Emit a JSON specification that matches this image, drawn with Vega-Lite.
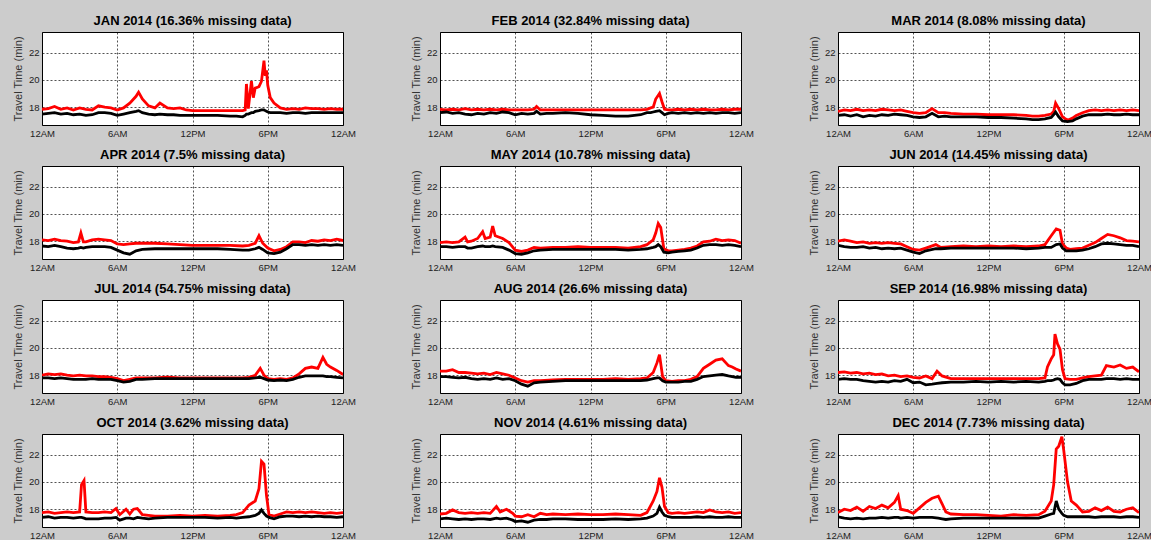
{
"$schema":"https://vega.github.io/schema/vega-lite/v6.json",
"background":"#cccccc",
"padding":{"left":11,"top":14,"right":0,"bottom":0},
"data":{"values":[
{"m":"JAN","h":0,"r":17.85,"k":17.5},{"m":"JAN","h":0.5,"r":17.9,"k":17.55},{"m":"JAN","h":1,"r":18.05,"k":17.6},{"m":"JAN","h":1.5,"r":17.85,"k":17.5},{"m":"JAN","h":2,"r":17.95,"k":17.55},{"m":"JAN","h":2.5,"r":17.8,"k":17.45},{"m":"JAN","h":3,"r":17.95,"k":17.5},{"m":"JAN","h":3.5,"r":17.85,"k":17.4},{"m":"JAN","h":4,"r":17.8,"k":17.45},{"m":"JAN","h":4.5,"r":18.1,"k":17.6},{"m":"JAN","h":5,"r":18.0,"k":17.6},{"m":"JAN","h":5.5,"r":17.95,"k":17.55},{"m":"JAN","h":6,"r":17.8,"k":17.4},{"m":"JAN","h":6.5,"r":17.95,"k":17.5},{"m":"JAN","h":7,"r":18.3,"k":17.6},{"m":"JAN","h":7.5,"r":18.8,"k":17.7},{"m":"JAN","h":7.7,"r":19.1,"k":17.75},{"m":"JAN","h":8,"r":18.6,"k":17.6},{"m":"JAN","h":8.5,"r":18.1,"k":17.5},{"m":"JAN","h":9,"r":17.95,"k":17.45},{"m":"JAN","h":9.4,"r":18.3,"k":17.5},{"m":"JAN","h":10,"r":17.95,"k":17.45},{"m":"JAN","h":10.5,"r":17.9,"k":17.45},{"m":"JAN","h":11,"r":17.95,"k":17.4},{"m":"JAN","h":11.5,"r":17.8,"k":17.4},{"m":"JAN","h":12,"r":17.75,"k":17.4},{"m":"JAN","h":13,"r":17.75,"k":17.4},{"m":"JAN","h":14,"r":17.75,"k":17.4},{"m":"JAN","h":15,"r":17.75,"k":17.35},{"m":"JAN","h":15.5,"r":17.75,"k":17.35},{"m":"JAN","h":16,"r":17.75,"k":17.3},{"m":"JAN","h":16.2,"r":17.8,"k":17.4},{"m":"JAN","h":16.3,"r":19.7,"k":17.5},{"m":"JAN","h":16.45,"r":17.9,"k":17.5},{"m":"JAN","h":16.7,"r":19.9,"k":17.6},{"m":"JAN","h":16.85,"r":18.7,"k":17.6},{"m":"JAN","h":17,"r":19.4,"k":17.7},{"m":"JAN","h":17.3,"r":19.5,"k":17.75},{"m":"JAN","h":17.5,"r":19.9,"k":17.8},{"m":"JAN","h":17.7,"r":21.4,"k":17.8},{"m":"JAN","h":17.8,"r":20.3,"k":17.75},{"m":"JAN","h":17.9,"r":20.7,"k":17.7},{"m":"JAN","h":18,"r":19.6,"k":17.65},{"m":"JAN","h":18.2,"r":18.7,"k":17.6},{"m":"JAN","h":18.5,"r":18.3,"k":17.6},{"m":"JAN","h":19,"r":17.95,"k":17.6},{"m":"JAN","h":19.5,"r":17.85,"k":17.55},{"m":"JAN","h":20,"r":17.9,"k":17.6},{"m":"JAN","h":20.5,"r":17.85,"k":17.6},{"m":"JAN","h":21,"r":17.95,"k":17.55},{"m":"JAN","h":21.5,"r":17.9,"k":17.6},{"m":"JAN","h":22,"r":17.9,"k":17.6},{"m":"JAN","h":22.5,"r":17.85,"k":17.6},{"m":"JAN","h":23,"r":17.9,"k":17.6},{"m":"JAN","h":23.5,"r":17.85,"k":17.6},{"m":"JAN","h":24,"r":17.85,"k":17.6},
{"m":"FEB","h":0,"r":17.85,"k":17.6},{"m":"FEB","h":0.5,"r":17.8,"k":17.65},{"m":"FEB","h":1,"r":17.85,"k":17.55},{"m":"FEB","h":1.5,"r":17.8,"k":17.6},{"m":"FEB","h":2,"r":17.9,"k":17.5},{"m":"FEB","h":2.5,"r":17.8,"k":17.45},{"m":"FEB","h":3,"r":17.85,"k":17.55},{"m":"FEB","h":3.5,"r":17.8,"k":17.5},{"m":"FEB","h":4,"r":17.85,"k":17.6},{"m":"FEB","h":4.5,"r":17.8,"k":17.55},{"m":"FEB","h":5,"r":17.85,"k":17.65},{"m":"FEB","h":5.5,"r":17.8,"k":17.6},{"m":"FEB","h":6,"r":17.8,"k":17.45},{"m":"FEB","h":6.5,"r":17.8,"k":17.55},{"m":"FEB","h":7,"r":17.8,"k":17.5},{"m":"FEB","h":7.5,"r":17.85,"k":17.55},{"m":"FEB","h":7.7,"r":18.05,"k":17.7},{"m":"FEB","h":8,"r":17.8,"k":17.5},{"m":"FEB","h":8.5,"r":17.8,"k":17.55},{"m":"FEB","h":9,"r":17.8,"k":17.55},{"m":"FEB","h":10,"r":17.8,"k":17.6},{"m":"FEB","h":11,"r":17.8,"k":17.55},{"m":"FEB","h":12,"r":17.8,"k":17.45},{"m":"FEB","h":13,"r":17.8,"k":17.4},{"m":"FEB","h":14,"r":17.8,"k":17.35},{"m":"FEB","h":15,"r":17.8,"k":17.35},{"m":"FEB","h":15.5,"r":17.8,"k":17.4},{"m":"FEB","h":16,"r":17.8,"k":17.45},{"m":"FEB","h":16.5,"r":17.85,"k":17.6},{"m":"FEB","h":16.8,"r":17.95,"k":17.6},{"m":"FEB","h":17,"r":18.0,"k":17.65},{"m":"FEB","h":17.2,"r":18.6,"k":17.7},{"m":"FEB","h":17.5,"r":19.0,"k":17.75},{"m":"FEB","h":17.7,"r":18.4,"k":17.6},{"m":"FEB","h":17.9,"r":17.85,"k":17.45},{"m":"FEB","h":18.2,"r":17.8,"k":17.55},{"m":"FEB","h":18.5,"r":17.8,"k":17.6},{"m":"FEB","h":19,"r":17.85,"k":17.55},{"m":"FEB","h":19.5,"r":17.8,"k":17.6},{"m":"FEB","h":20,"r":17.85,"k":17.55},{"m":"FEB","h":20.5,"r":17.8,"k":17.6},{"m":"FEB","h":21,"r":17.85,"k":17.55},{"m":"FEB","h":21.5,"r":17.8,"k":17.6},{"m":"FEB","h":22,"r":17.8,"k":17.55},{"m":"FEB","h":22.5,"r":17.85,"k":17.6},{"m":"FEB","h":23,"r":17.8,"k":17.6},{"m":"FEB","h":23.5,"r":17.85,"k":17.55},{"m":"FEB","h":24,"r":17.85,"k":17.6},
{"m":"MAR","h":0,"r":17.7,"k":17.4},{"m":"MAR","h":0.5,"r":17.8,"k":17.45},{"m":"MAR","h":1,"r":17.75,"k":17.35},{"m":"MAR","h":1.5,"r":17.85,"k":17.45},{"m":"MAR","h":2,"r":17.75,"k":17.3},{"m":"MAR","h":2.5,"r":17.8,"k":17.4},{"m":"MAR","h":3,"r":17.75,"k":17.35},{"m":"MAR","h":3.5,"r":17.85,"k":17.45},{"m":"MAR","h":4,"r":17.8,"k":17.4},{"m":"MAR","h":4.5,"r":17.75,"k":17.5},{"m":"MAR","h":5,"r":17.8,"k":17.45},{"m":"MAR","h":5.5,"r":17.7,"k":17.4},{"m":"MAR","h":6,"r":17.6,"k":17.3},{"m":"MAR","h":6.5,"r":17.55,"k":17.25},{"m":"MAR","h":7,"r":17.6,"k":17.3},{"m":"MAR","h":7.5,"r":17.9,"k":17.55},{"m":"MAR","h":8,"r":17.6,"k":17.3},{"m":"MAR","h":8.5,"r":17.6,"k":17.35},{"m":"MAR","h":9,"r":17.55,"k":17.3},{"m":"MAR","h":10,"r":17.5,"k":17.3},{"m":"MAR","h":11,"r":17.5,"k":17.3},{"m":"MAR","h":12,"r":17.45,"k":17.25},{"m":"MAR","h":13,"r":17.45,"k":17.25},{"m":"MAR","h":14,"r":17.45,"k":17.2},{"m":"MAR","h":15,"r":17.4,"k":17.15},{"m":"MAR","h":15.5,"r":17.35,"k":17.1},{"m":"MAR","h":16,"r":17.35,"k":17.1},{"m":"MAR","h":16.5,"r":17.4,"k":17.15},{"m":"MAR","h":17,"r":17.5,"k":17.25},{"m":"MAR","h":17.2,"r":17.7,"k":17.45},{"m":"MAR","h":17.35,"r":18.3,"k":17.65},{"m":"MAR","h":17.6,"r":17.9,"k":17.3},{"m":"MAR","h":17.9,"r":17.3,"k":17.0},{"m":"MAR","h":18.3,"r":17.05,"k":16.95},{"m":"MAR","h":18.7,"r":17.2,"k":17.0},{"m":"MAR","h":19,"r":17.4,"k":17.15},{"m":"MAR","h":19.5,"r":17.6,"k":17.35},{"m":"MAR","h":20,"r":17.75,"k":17.45},{"m":"MAR","h":20.5,"r":17.8,"k":17.45},{"m":"MAR","h":21,"r":17.75,"k":17.45},{"m":"MAR","h":21.5,"r":17.8,"k":17.5},{"m":"MAR","h":22,"r":17.75,"k":17.45},{"m":"MAR","h":22.5,"r":17.8,"k":17.45},{"m":"MAR","h":23,"r":17.75,"k":17.5},{"m":"MAR","h":23.5,"r":17.8,"k":17.45},{"m":"MAR","h":24,"r":17.75,"k":17.45},
{"m":"APR","h":0,"r":18.1,"k":17.65},{"m":"APR","h":0.5,"r":18.05,"k":17.6},{"m":"APR","h":1,"r":18.15,"k":17.7},{"m":"APR","h":1.5,"r":18.05,"k":17.6},{"m":"APR","h":2,"r":18.0,"k":17.5},{"m":"APR","h":2.5,"r":17.9,"k":17.45},{"m":"APR","h":2.9,"r":17.95,"k":17.5},{"m":"APR","h":3.1,"r":18.6,"k":17.55},{"m":"APR","h":3.3,"r":17.95,"k":17.5},{"m":"APR","h":3.5,"r":17.95,"k":17.55},{"m":"APR","h":4,"r":18.1,"k":17.6},{"m":"APR","h":4.5,"r":18.15,"k":17.6},{"m":"APR","h":5,"r":18.1,"k":17.6},{"m":"APR","h":5.5,"r":18.05,"k":17.55},{"m":"APR","h":6,"r":17.8,"k":17.35},{"m":"APR","h":6.5,"r":17.75,"k":17.15},{"m":"APR","h":7,"r":17.8,"k":17.05},{"m":"APR","h":7.5,"r":17.85,"k":17.3},{"m":"APR","h":8,"r":17.85,"k":17.4},{"m":"APR","h":9,"r":17.85,"k":17.45},{"m":"APR","h":10,"r":17.8,"k":17.45},{"m":"APR","h":11,"r":17.75,"k":17.45},{"m":"APR","h":12,"r":17.7,"k":17.45},{"m":"APR","h":13,"r":17.7,"k":17.45},{"m":"APR","h":14,"r":17.7,"k":17.45},{"m":"APR","h":15,"r":17.7,"k":17.4},{"m":"APR","h":16,"r":17.65,"k":17.35},{"m":"APR","h":16.5,"r":17.7,"k":17.35},{"m":"APR","h":17,"r":17.85,"k":17.45},{"m":"APR","h":17.3,"r":18.4,"k":17.55},{"m":"APR","h":17.6,"r":17.85,"k":17.4},{"m":"APR","h":18,"r":17.5,"k":17.15},{"m":"APR","h":18.5,"r":17.3,"k":17.1},{"m":"APR","h":19,"r":17.4,"k":17.2},{"m":"APR","h":19.5,"r":17.6,"k":17.45},{"m":"APR","h":20,"r":17.95,"k":17.75},{"m":"APR","h":20.5,"r":17.95,"k":17.75},{"m":"APR","h":21,"r":17.9,"k":17.7},{"m":"APR","h":21.5,"r":18.05,"k":17.75},{"m":"APR","h":22,"r":18.0,"k":17.7},{"m":"APR","h":22.5,"r":18.1,"k":17.75},{"m":"APR","h":23,"r":18.05,"k":17.7},{"m":"APR","h":23.5,"r":18.15,"k":17.75},{"m":"APR","h":24,"r":18.05,"k":17.7},
{"m":"MAY","h":0,"r":17.9,"k":17.6},{"m":"MAY","h":0.5,"r":17.95,"k":17.6},{"m":"MAY","h":1,"r":17.9,"k":17.55},{"m":"MAY","h":1.5,"r":17.95,"k":17.6},{"m":"MAY","h":2,"r":18.3,"k":17.6},{"m":"MAY","h":2.2,"r":17.95,"k":17.5},{"m":"MAY","h":2.5,"r":18.0,"k":17.5},{"m":"MAY","h":3,"r":18.2,"k":17.6},{"m":"MAY","h":3.4,"r":18.7,"k":17.65},{"m":"MAY","h":3.6,"r":18.2,"k":17.6},{"m":"MAY","h":4,"r":18.3,"k":17.6},{"m":"MAY","h":4.2,"r":19.1,"k":17.65},{"m":"MAY","h":4.4,"r":18.4,"k":17.6},{"m":"MAY","h":5,"r":18.2,"k":17.55},{"m":"MAY","h":5.5,"r":17.9,"k":17.35},{"m":"MAY","h":6,"r":17.35,"k":17.1},{"m":"MAY","h":6.5,"r":17.25,"k":17.05},{"m":"MAY","h":7,"r":17.35,"k":17.15},{"m":"MAY","h":7.5,"r":17.55,"k":17.3},{"m":"MAY","h":8,"r":17.5,"k":17.35},{"m":"MAY","h":9,"r":17.55,"k":17.4},{"m":"MAY","h":10,"r":17.55,"k":17.4},{"m":"MAY","h":11,"r":17.6,"k":17.4},{"m":"MAY","h":12,"r":17.55,"k":17.4},{"m":"MAY","h":13,"r":17.55,"k":17.4},{"m":"MAY","h":14,"r":17.55,"k":17.4},{"m":"MAY","h":15,"r":17.5,"k":17.35},{"m":"MAY","h":16,"r":17.6,"k":17.4},{"m":"MAY","h":16.5,"r":17.75,"k":17.45},{"m":"MAY","h":17,"r":18.1,"k":17.55},{"m":"MAY","h":17.2,"r":18.6,"k":17.6},{"m":"MAY","h":17.4,"r":19.3,"k":17.75},{"m":"MAY","h":17.6,"r":19.0,"k":17.6},{"m":"MAY","h":17.85,"r":17.45,"k":17.2},{"m":"MAY","h":18.2,"r":17.3,"k":17.15},{"m":"MAY","h":18.5,"r":17.3,"k":17.2},{"m":"MAY","h":19,"r":17.35,"k":17.25},{"m":"MAY","h":19.5,"r":17.4,"k":17.3},{"m":"MAY","h":20,"r":17.5,"k":17.35},{"m":"MAY","h":20.5,"r":17.65,"k":17.5},{"m":"MAY","h":21,"r":17.95,"k":17.7},{"m":"MAY","h":21.5,"r":18.0,"k":17.75},{"m":"MAY","h":22,"r":18.15,"k":17.75},{"m":"MAY","h":22.5,"r":18.05,"k":17.7},{"m":"MAY","h":23,"r":18.1,"k":17.75},{"m":"MAY","h":23.5,"r":18.05,"k":17.7},{"m":"MAY","h":24,"r":17.85,"k":17.6},
{"m":"JUN","h":0,"r":18.0,"k":17.7},{"m":"JUN","h":0.5,"r":18.1,"k":17.6},{"m":"JUN","h":1,"r":18.0,"k":17.55},{"m":"JUN","h":1.5,"r":17.9,"k":17.55},{"m":"JUN","h":2,"r":17.95,"k":17.6},{"m":"JUN","h":2.5,"r":17.85,"k":17.5},{"m":"JUN","h":3,"r":17.9,"k":17.55},{"m":"JUN","h":3.5,"r":17.85,"k":17.45},{"m":"JUN","h":4,"r":17.9,"k":17.5},{"m":"JUN","h":4.5,"r":17.85,"k":17.45},{"m":"JUN","h":5,"r":17.8,"k":17.5},{"m":"JUN","h":5.5,"r":17.6,"k":17.35},{"m":"JUN","h":6,"r":17.4,"k":17.2},{"m":"JUN","h":6.5,"r":17.35,"k":17.1},{"m":"JUN","h":7,"r":17.5,"k":17.3},{"m":"JUN","h":7.8,"r":17.75,"k":17.45},{"m":"JUN","h":8.2,"r":17.55,"k":17.45},{"m":"JUN","h":9,"r":17.6,"k":17.5},{"m":"JUN","h":10,"r":17.65,"k":17.5},{"m":"JUN","h":11,"r":17.6,"k":17.5},{"m":"JUN","h":12,"r":17.65,"k":17.5},{"m":"JUN","h":13,"r":17.6,"k":17.5},{"m":"JUN","h":14,"r":17.65,"k":17.5},{"m":"JUN","h":15,"r":17.6,"k":17.45},{"m":"JUN","h":16,"r":17.65,"k":17.5},{"m":"JUN","h":16.5,"r":17.75,"k":17.55},{"m":"JUN","h":17,"r":18.4,"k":17.55},{"m":"JUN","h":17.4,"r":18.9,"k":17.75},{"m":"JUN","h":17.7,"r":18.8,"k":17.8},{"m":"JUN","h":17.9,"r":17.8,"k":17.5},{"m":"JUN","h":18.2,"r":17.5,"k":17.3},{"m":"JUN","h":18.5,"r":17.4,"k":17.3},{"m":"JUN","h":19,"r":17.45,"k":17.3},{"m":"JUN","h":19.5,"r":17.5,"k":17.35},{"m":"JUN","h":20,"r":17.7,"k":17.45},{"m":"JUN","h":20.5,"r":17.9,"k":17.6},{"m":"JUN","h":21,"r":18.2,"k":17.8},{"m":"JUN","h":21.5,"r":18.5,"k":17.85},{"m":"JUN","h":22,"r":18.4,"k":17.8},{"m":"JUN","h":22.5,"r":18.25,"k":17.75},{"m":"JUN","h":23,"r":18.05,"k":17.7},{"m":"JUN","h":23.5,"r":18.0,"k":17.7},{"m":"JUN","h":24,"r":17.95,"k":17.6},
{"m":"JUL","h":0,"r":18.0,"k":17.8},{"m":"JUL","h":0.5,"r":18.1,"k":17.8},{"m":"JUL","h":1,"r":18.05,"k":17.75},{"m":"JUL","h":1.5,"r":18.1,"k":17.8},{"m":"JUL","h":2,"r":18.0,"k":17.75},{"m":"JUL","h":2.5,"r":17.95,"k":17.7},{"m":"JUL","h":3,"r":18.0,"k":17.7},{"m":"JUL","h":3.5,"r":17.95,"k":17.7},{"m":"JUL","h":4,"r":17.95,"k":17.75},{"m":"JUL","h":4.5,"r":17.9,"k":17.7},{"m":"JUL","h":5,"r":17.9,"k":17.7},{"m":"JUL","h":5.5,"r":17.85,"k":17.7},{"m":"JUL","h":6,"r":17.75,"k":17.6},{"m":"JUL","h":6.5,"r":17.6,"k":17.5},{"m":"JUL","h":7,"r":17.7,"k":17.55},{"m":"JUL","h":7.5,"r":17.8,"k":17.7},{"m":"JUL","h":8,"r":17.8,"k":17.7},{"m":"JUL","h":9,"r":17.8,"k":17.75},{"m":"JUL","h":10,"r":17.85,"k":17.75},{"m":"JUL","h":11,"r":17.8,"k":17.75},{"m":"JUL","h":12,"r":17.8,"k":17.75},{"m":"JUL","h":13,"r":17.8,"k":17.75},{"m":"JUL","h":14,"r":17.8,"k":17.75},{"m":"JUL","h":15,"r":17.8,"k":17.75},{"m":"JUL","h":16,"r":17.8,"k":17.75},{"m":"JUL","h":16.5,"r":17.85,"k":17.75},{"m":"JUL","h":17,"r":18.0,"k":17.8},{"m":"JUL","h":17.4,"r":18.5,"k":17.85},{"m":"JUL","h":17.7,"r":18.0,"k":17.75},{"m":"JUL","h":18,"r":17.75,"k":17.65},{"m":"JUL","h":18.5,"r":17.7,"k":17.6},{"m":"JUL","h":19,"r":17.75,"k":17.65},{"m":"JUL","h":19.5,"r":17.7,"k":17.6},{"m":"JUL","h":20,"r":17.8,"k":17.7},{"m":"JUL","h":20.5,"r":18.1,"k":17.85},{"m":"JUL","h":21,"r":18.5,"k":17.95},{"m":"JUL","h":21.5,"r":18.6,"k":17.95},{"m":"JUL","h":22,"r":18.5,"k":17.95},{"m":"JUL","h":22.4,"r":19.3,"k":17.95},{"m":"JUL","h":22.7,"r":18.8,"k":17.9},{"m":"JUL","h":23,"r":18.6,"k":17.9},{"m":"JUL","h":23.5,"r":18.35,"k":17.85},{"m":"JUL","h":24,"r":18.05,"k":17.8},
{"m":"AUG","h":0,"r":18.3,"k":17.9},{"m":"AUG","h":0.5,"r":18.3,"k":17.9},{"m":"AUG","h":1,"r":18.4,"k":17.85},{"m":"AUG","h":1.5,"r":18.2,"k":17.8},{"m":"AUG","h":2,"r":18.2,"k":17.85},{"m":"AUG","h":2.5,"r":18.15,"k":17.75},{"m":"AUG","h":3,"r":18.1,"k":17.7},{"m":"AUG","h":3.5,"r":18.15,"k":17.75},{"m":"AUG","h":4,"r":18.05,"k":17.7},{"m":"AUG","h":4.5,"r":18.2,"k":17.8},{"m":"AUG","h":5,"r":18.1,"k":17.7},{"m":"AUG","h":5.5,"r":18.0,"k":17.75},{"m":"AUG","h":6,"r":17.8,"k":17.6},{"m":"AUG","h":6.5,"r":17.6,"k":17.35},{"m":"AUG","h":7,"r":17.5,"k":17.2},{"m":"AUG","h":7.5,"r":17.6,"k":17.45},{"m":"AUG","h":8,"r":17.6,"k":17.5},{"m":"AUG","h":9,"r":17.65,"k":17.55},{"m":"AUG","h":10,"r":17.7,"k":17.6},{"m":"AUG","h":11,"r":17.7,"k":17.6},{"m":"AUG","h":12,"r":17.7,"k":17.6},{"m":"AUG","h":13,"r":17.7,"k":17.6},{"m":"AUG","h":14,"r":17.75,"k":17.6},{"m":"AUG","h":15,"r":17.7,"k":17.6},{"m":"AUG","h":16,"r":17.75,"k":17.6},{"m":"AUG","h":16.5,"r":17.8,"k":17.65},{"m":"AUG","h":17,"r":18.2,"k":17.75},{"m":"AUG","h":17.3,"r":18.9,"k":17.8},{"m":"AUG","h":17.5,"r":19.5,"k":17.8},{"m":"AUG","h":17.75,"r":17.9,"k":17.6},{"m":"AUG","h":18,"r":17.6,"k":17.5},{"m":"AUG","h":18.5,"r":17.55,"k":17.5},{"m":"AUG","h":19,"r":17.6,"k":17.5},{"m":"AUG","h":19.5,"r":17.6,"k":17.55},{"m":"AUG","h":20,"r":17.7,"k":17.55},{"m":"AUG","h":20.5,"r":17.9,"k":17.7},{"m":"AUG","h":21,"r":18.5,"k":17.9},{"m":"AUG","h":21.5,"r":18.8,"k":17.95},{"m":"AUG","h":22,"r":19.1,"k":18.0},{"m":"AUG","h":22.5,"r":19.2,"k":18.05},{"m":"AUG","h":23,"r":18.7,"k":17.95},{"m":"AUG","h":23.3,"r":18.6,"k":17.9},{"m":"AUG","h":23.6,"r":18.45,"k":17.85},{"m":"AUG","h":24,"r":18.3,"k":17.85},
{"m":"SEP","h":0,"r":18.2,"k":17.7},{"m":"SEP","h":0.5,"r":18.25,"k":17.75},{"m":"SEP","h":1,"r":18.15,"k":17.7},{"m":"SEP","h":1.5,"r":18.2,"k":17.7},{"m":"SEP","h":2,"r":18.1,"k":17.6},{"m":"SEP","h":2.5,"r":18.15,"k":17.55},{"m":"SEP","h":3,"r":18.05,"k":17.5},{"m":"SEP","h":3.5,"r":18.1,"k":17.55},{"m":"SEP","h":4,"r":17.95,"k":17.5},{"m":"SEP","h":4.5,"r":18.0,"k":17.6},{"m":"SEP","h":5,"r":17.9,"k":17.55},{"m":"SEP","h":5.5,"r":17.95,"k":17.7},{"m":"SEP","h":6,"r":17.85,"k":17.45},{"m":"SEP","h":6.5,"r":17.8,"k":17.5},{"m":"SEP","h":7,"r":17.95,"k":17.3},{"m":"SEP","h":7.5,"r":17.75,"k":17.35},{"m":"SEP","h":7.9,"r":18.3,"k":17.4},{"m":"SEP","h":8.3,"r":17.95,"k":17.45},{"m":"SEP","h":9,"r":17.75,"k":17.5},{"m":"SEP","h":10,"r":17.75,"k":17.5},{"m":"SEP","h":11,"r":17.75,"k":17.55},{"m":"SEP","h":12,"r":17.75,"k":17.5},{"m":"SEP","h":13,"r":17.75,"k":17.55},{"m":"SEP","h":14,"r":17.75,"k":17.5},{"m":"SEP","h":15,"r":17.75,"k":17.55},{"m":"SEP","h":16,"r":17.75,"k":17.5},{"m":"SEP","h":16.5,"r":17.8,"k":17.55},{"m":"SEP","h":16.7,"r":18.6,"k":17.6},{"m":"SEP","h":17,"r":19.2,"k":17.6},{"m":"SEP","h":17.2,"r":19.5,"k":17.65},{"m":"SEP","h":17.3,"r":21.0,"k":17.7},{"m":"SEP","h":17.5,"r":20.3,"k":17.75},{"m":"SEP","h":17.7,"r":19.9,"k":17.7},{"m":"SEP","h":17.9,"r":18.4,"k":17.45},{"m":"SEP","h":18.1,"r":17.75,"k":17.3},{"m":"SEP","h":18.5,"r":17.7,"k":17.3},{"m":"SEP","h":19,"r":17.7,"k":17.4},{"m":"SEP","h":19.5,"r":17.8,"k":17.6},{"m":"SEP","h":20,"r":17.9,"k":17.7},{"m":"SEP","h":20.5,"r":17.95,"k":17.7},{"m":"SEP","h":21,"r":18.0,"k":17.7},{"m":"SEP","h":21.4,"r":18.7,"k":17.75},{"m":"SEP","h":22,"r":18.6,"k":17.75},{"m":"SEP","h":22.5,"r":18.75,"k":17.7},{"m":"SEP","h":23,"r":18.5,"k":17.75},{"m":"SEP","h":23.5,"r":18.6,"k":17.7},{"m":"SEP","h":24,"r":18.25,"k":17.7},
{"m":"OCT","h":0,"r":17.75,"k":17.4},{"m":"OCT","h":0.5,"r":17.8,"k":17.45},{"m":"OCT","h":1,"r":17.7,"k":17.35},{"m":"OCT","h":1.5,"r":17.75,"k":17.4},{"m":"OCT","h":2,"r":17.8,"k":17.4},{"m":"OCT","h":2.5,"r":17.75,"k":17.35},{"m":"OCT","h":3,"r":17.8,"k":17.4},{"m":"OCT","h":3.15,"r":19.8,"k":17.4},{"m":"OCT","h":3.35,"r":20.1,"k":17.35},{"m":"OCT","h":3.5,"r":17.8,"k":17.3},{"m":"OCT","h":4,"r":17.75,"k":17.3},{"m":"OCT","h":4.5,"r":17.75,"k":17.3},{"m":"OCT","h":5,"r":17.8,"k":17.35},{"m":"OCT","h":5.5,"r":17.75,"k":17.35},{"m":"OCT","h":5.9,"r":18.05,"k":17.4},{"m":"OCT","h":6.2,"r":17.6,"k":17.2},{"m":"OCT","h":6.7,"r":18.0,"k":17.35},{"m":"OCT","h":7,"r":17.65,"k":17.35},{"m":"OCT","h":7.3,"r":18.0,"k":17.3},{"m":"OCT","h":7.6,"r":18.05,"k":17.4},{"m":"OCT","h":8,"r":17.6,"k":17.35},{"m":"OCT","h":8.5,"r":17.55,"k":17.3},{"m":"OCT","h":9,"r":17.5,"k":17.35},{"m":"OCT","h":10,"r":17.5,"k":17.4},{"m":"OCT","h":11,"r":17.55,"k":17.4},{"m":"OCT","h":12,"r":17.5,"k":17.4},{"m":"OCT","h":13,"r":17.55,"k":17.4},{"m":"OCT","h":14,"r":17.5,"k":17.35},{"m":"OCT","h":15,"r":17.55,"k":17.4},{"m":"OCT","h":15.5,"r":17.6,"k":17.35},{"m":"OCT","h":16,"r":17.75,"k":17.4},{"m":"OCT","h":16.5,"r":18.3,"k":17.45},{"m":"OCT","h":17,"r":18.6,"k":17.55},{"m":"OCT","h":17.3,"r":19.5,"k":17.7},{"m":"OCT","h":17.5,"r":21.5,"k":17.95},{"m":"OCT","h":17.7,"r":21.3,"k":17.7},{"m":"OCT","h":17.9,"r":19.0,"k":17.5},{"m":"OCT","h":18.1,"r":17.6,"k":17.4},{"m":"OCT","h":18.5,"r":17.5,"k":17.3},{"m":"OCT","h":19,"r":17.65,"k":17.45},{"m":"OCT","h":19.5,"r":17.8,"k":17.5},{"m":"OCT","h":20,"r":17.75,"k":17.5},{"m":"OCT","h":20.5,"r":17.8,"k":17.45},{"m":"OCT","h":21,"r":17.75,"k":17.5},{"m":"OCT","h":21.5,"r":17.8,"k":17.45},{"m":"OCT","h":22,"r":17.75,"k":17.5},{"m":"OCT","h":22.5,"r":17.7,"k":17.45},{"m":"OCT","h":23,"r":17.75,"k":17.45},{"m":"OCT","h":23.5,"r":17.7,"k":17.4},{"m":"OCT","h":24,"r":17.75,"k":17.45},
{"m":"NOV","h":0,"r":17.65,"k":17.3},{"m":"NOV","h":0.5,"r":17.7,"k":17.35},{"m":"NOV","h":1,"r":17.95,"k":17.3},{"m":"NOV","h":1.5,"r":17.75,"k":17.25},{"m":"NOV","h":2,"r":17.7,"k":17.3},{"m":"NOV","h":2.5,"r":17.75,"k":17.25},{"m":"NOV","h":3,"r":17.7,"k":17.3},{"m":"NOV","h":3.5,"r":17.75,"k":17.3},{"m":"NOV","h":4,"r":17.7,"k":17.25},{"m":"NOV","h":4.5,"r":18.2,"k":17.35},{"m":"NOV","h":4.8,"r":17.8,"k":17.3},{"m":"NOV","h":5.3,"r":18.0,"k":17.35},{"m":"NOV","h":5.8,"r":17.7,"k":17.2},{"m":"NOV","h":6,"r":17.5,"k":17.1},{"m":"NOV","h":6.5,"r":17.45,"k":17.15},{"m":"NOV","h":7,"r":17.6,"k":17.05},{"m":"NOV","h":7.5,"r":17.45,"k":17.2},{"m":"NOV","h":8,"r":17.7,"k":17.25},{"m":"NOV","h":8.5,"r":17.6,"k":17.25},{"m":"NOV","h":9,"r":17.65,"k":17.3},{"m":"NOV","h":10,"r":17.6,"k":17.3},{"m":"NOV","h":11,"r":17.65,"k":17.25},{"m":"NOV","h":12,"r":17.6,"k":17.25},{"m":"NOV","h":13,"r":17.6,"k":17.25},{"m":"NOV","h":14,"r":17.65,"k":17.3},{"m":"NOV","h":15,"r":17.6,"k":17.25},{"m":"NOV","h":16,"r":17.55,"k":17.3},{"m":"NOV","h":16.5,"r":17.75,"k":17.35},{"m":"NOV","h":17,"r":18.6,"k":17.5},{"m":"NOV","h":17.3,"r":19.3,"k":17.7},{"m":"NOV","h":17.5,"r":20.3,"k":18.15},{"m":"NOV","h":17.7,"r":19.6,"k":17.8},{"m":"NOV","h":17.9,"r":18.2,"k":17.55},{"m":"NOV","h":18.2,"r":17.75,"k":17.45},{"m":"NOV","h":18.5,"r":17.7,"k":17.4},{"m":"NOV","h":19,"r":17.75,"k":17.4},{"m":"NOV","h":19.5,"r":17.7,"k":17.4},{"m":"NOV","h":20,"r":17.75,"k":17.4},{"m":"NOV","h":20.5,"r":17.8,"k":17.45},{"m":"NOV","h":21,"r":17.75,"k":17.4},{"m":"NOV","h":21.5,"r":17.95,"k":17.45},{"m":"NOV","h":22,"r":17.8,"k":17.4},{"m":"NOV","h":22.5,"r":17.75,"k":17.4},{"m":"NOV","h":23,"r":17.8,"k":17.45},{"m":"NOV","h":23.5,"r":17.7,"k":17.4},{"m":"NOV","h":24,"r":17.75,"k":17.4},
{"m":"DEC","h":0,"r":17.75,"k":17.45},{"m":"DEC","h":0.5,"r":18.0,"k":17.35},{"m":"DEC","h":1,"r":17.9,"k":17.3},{"m":"DEC","h":1.5,"r":18.15,"k":17.35},{"m":"DEC","h":2,"r":17.85,"k":17.3},{"m":"DEC","h":2.5,"r":18.2,"k":17.35},{"m":"DEC","h":3,"r":18.05,"k":17.35},{"m":"DEC","h":3.5,"r":18.3,"k":17.4},{"m":"DEC","h":4,"r":18.1,"k":17.35},{"m":"DEC","h":4.5,"r":18.5,"k":17.4},{"m":"DEC","h":4.8,"r":19.0,"k":17.4},{"m":"DEC","h":5,"r":18.0,"k":17.35},{"m":"DEC","h":5.5,"r":17.9,"k":17.4},{"m":"DEC","h":6,"r":17.7,"k":17.35},{"m":"DEC","h":6.5,"r":18.1,"k":17.4},{"m":"DEC","h":7,"r":18.5,"k":17.4},{"m":"DEC","h":7.5,"r":18.8,"k":17.4},{"m":"DEC","h":8,"r":18.95,"k":17.35},{"m":"DEC","h":8.3,"r":18.4,"k":17.3},{"m":"DEC","h":8.6,"r":17.8,"k":17.25},{"m":"DEC","h":9,"r":17.65,"k":17.3},{"m":"DEC","h":10,"r":17.6,"k":17.35},{"m":"DEC","h":11,"r":17.6,"k":17.35},{"m":"DEC","h":12,"r":17.55,"k":17.35},{"m":"DEC","h":13,"r":17.5,"k":17.35},{"m":"DEC","h":14,"r":17.6,"k":17.35},{"m":"DEC","h":15,"r":17.55,"k":17.35},{"m":"DEC","h":16,"r":17.6,"k":17.35},{"m":"DEC","h":16.5,"r":17.85,"k":17.5},{"m":"DEC","h":17,"r":18.6,"k":17.65},{"m":"DEC","h":17.2,"r":19.8,"k":17.7},{"m":"DEC","h":17.4,"r":22.4,"k":18.6},{"m":"DEC","h":17.6,"r":22.6,"k":18.0},{"m":"DEC","h":17.85,"r":23.3,"k":17.7},{"m":"DEC","h":18,"r":22.3,"k":17.55},{"m":"DEC","h":18.3,"r":20.0,"k":17.45},{"m":"DEC","h":18.6,"r":18.6,"k":17.45},{"m":"DEC","h":19,"r":18.3,"k":17.45},{"m":"DEC","h":19.5,"r":17.8,"k":17.45},{"m":"DEC","h":20,"r":17.85,"k":17.45},{"m":"DEC","h":20.5,"r":18.1,"k":17.4},{"m":"DEC","h":21,"r":17.9,"k":17.45},{"m":"DEC","h":21.5,"r":18.15,"k":17.45},{"m":"DEC","h":22,"r":17.85,"k":17.45},{"m":"DEC","h":22.5,"r":17.8,"k":17.4},{"m":"DEC","h":23,"r":18.0,"k":17.45},{"m":"DEC","h":23.5,"r":18.1,"k":17.45},{"m":"DEC","h":24,"r":17.75,"k":17.4}
]},
"transform":[{"lookup":"m","from":{"data":{"values":[
{"m":"JAN","title":"JAN 2014 (16.36% missing data)"},{"m":"FEB","title":"FEB 2014 (32.84% missing data)"},{"m":"MAR","title":"MAR 2014 (8.08% missing data)"},{"m":"APR","title":"APR 2014 (7.5% missing data)"},{"m":"MAY","title":"MAY 2014 (10.78% missing data)"},{"m":"JUN","title":"JUN 2014 (14.45% missing data)"},{"m":"JUL","title":"JUL 2014 (54.75% missing data)"},{"m":"AUG","title":"AUG 2014 (26.6% missing data)"},{"m":"SEP","title":"SEP 2014 (16.98% missing data)"},{"m":"OCT","title":"OCT 2014 (3.62% missing data)"},{"m":"NOV","title":"NOV 2014 (4.61% missing data)"},{"m":"DEC","title":"DEC 2014 (7.73% missing data)"}]},"key":"m","fields":["title"]}}],
"facet":{"field":"title","type":"nominal","sort":["JAN 2014 (16.36% missing data)","FEB 2014 (32.84% missing data)","MAR 2014 (8.08% missing data)","APR 2014 (7.5% missing data)","MAY 2014 (10.78% missing data)","JUN 2014 (14.45% missing data)","JUL 2014 (54.75% missing data)","AUG 2014 (26.6% missing data)","SEP 2014 (16.98% missing data)","OCT 2014 (3.62% missing data)","NOV 2014 (4.61% missing data)","DEC 2014 (7.73% missing data)"],
"header":{"title":null,"labelFont":"Liberation Sans","labelFontSize":13,"labelFontWeight":"bold","labelColor":"#000000","labelPadding":4}},
"columns":3,
"spacing":{"row":10,"column":53},
"spec":{
"width":301,"height":93,
"layer":[
{"mark":{"type":"line","color":"#ff0000","strokeWidth":2.8,"clip":true},
"encoding":{"x":{"field":"h","type":"quantitative","scale":{"domain":[0,24],"nice":false},"axis":{"values":[0,6,12,18,24],"labelExpr":"datum.value==0||datum.value==24?'12AM':datum.value==6?'6AM':datum.value==12?'12PM':'6PM'","title":null}},
"y":{"field":"r","type":"quantitative","scale":{"domain":[16.7,23.5],"nice":false,"zero":false},"axis":{"values":[18,20,22],"title":"Travel Time (min)"}}}},
{"mark":{"type":"line","color":"#000000","strokeWidth":2.8,"clip":true},
"encoding":{"x":{"field":"h","type":"quantitative"},"y":{"field":"k","type":"quantitative"}}}
]},
"resolve":{"axis":{"x":"independent","y":"independent"}},
"config":{
"font":"Liberation Sans",
"view":{"fill":"#ffffff","stroke":"#000000","strokeWidth":1},
"axis":{"domain":false,"ticks":false,"grid":true,"gridColor":"#000000","gridDash":[2,2],"gridWidth":0.8,"gridOpacity":0.85,"labelFont":"Liberation Sans","labelFontSize":9.5,"labelColor":"#222222","labelPadding":3,"labelFlush":false,"labelBound":false,"titleFont":"Liberation Sans","titleFontSize":11,"titleFontWeight":"normal","titleColor":"#333333","titlePadding":5}
}
}
